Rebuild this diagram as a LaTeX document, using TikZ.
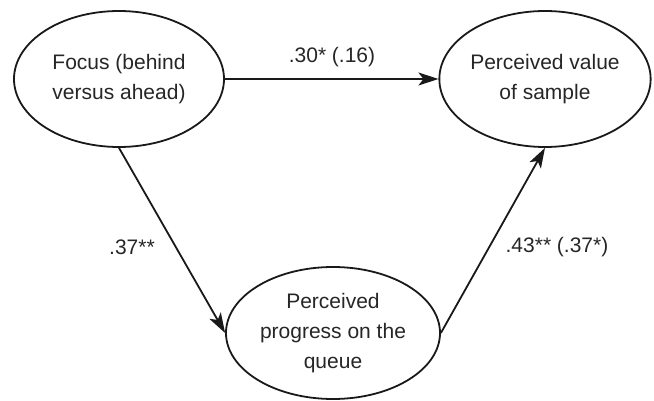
\documentclass[tikz,border=0pt]{standalone}
\usepackage{fontspec}
\setmainfont{Liberation Sans}
\usetikzlibrary{shapes.geometric,arrows.meta}
\begin{document}
\begin{tikzpicture}[x=1pt,y=-1pt,
  construct/.style={draw=black!90,line width=1.8pt,ellipse,inner sep=0pt,
    minimum width=210pt,minimum height=136pt,align=center,
    font=\fontsize{21}{30}\selectfont,text=black!85},
  path/.style={draw=black!90,line width=1.8pt,
    -{Stealth[length=20pt,width=13pt,inset=5pt]}},
  coef/.style={font=\fontsize{21}{25}\selectfont,text=black!85}]
  \useasboundingbox (0,0) rectangle (654,401);
  \node[construct] (focus) at (119,79) {Focus (behind\\versus ahead)};
  \node[construct] (value) at (545,79) {Perceived value\\of sample};
  \node[construct,minimum width=214pt,minimum height=132pt] (progress) at (333,333)
    {Perceived\\progress on the\\queue};
  \draw[path] (focus) -- (value);
  \draw[path] (focus.south) -- (progress.west);
  \draw[path] (progress.east) -- (value.south);
  \node[coef] (c1) at (332,57) {.30* (.16)};
  \node[coef] (c2) at (132,247) {.37**};
  \node[coef] (c3) at (557,247) {.43** (.37*)};
\end{tikzpicture}
\end{document}
